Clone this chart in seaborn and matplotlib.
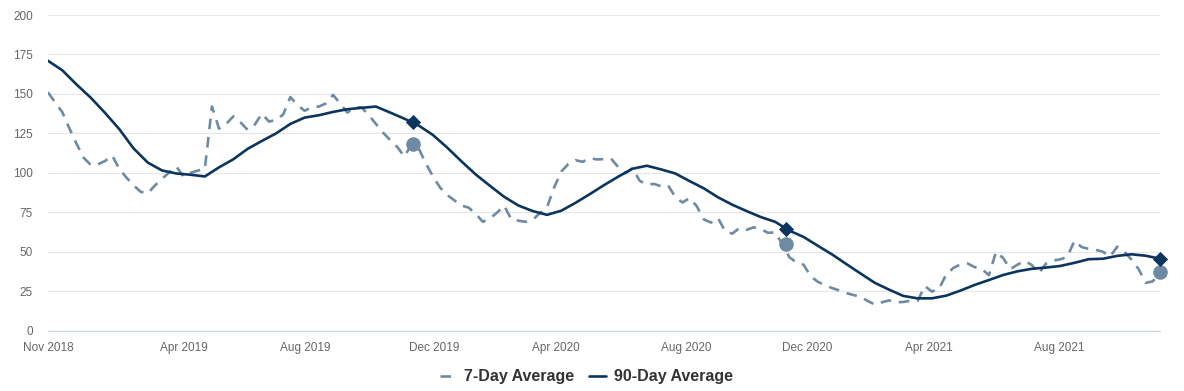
import pandas as pd
import seaborn as sns
import matplotlib.pyplot as plt

# Weekly 7-day average, starting 2018-11-17
start_date = "2018-11-17"
avg_7day = [
    151, 144.6, 138.5, 128.2, 118.5, 109.6, 105, 105.4, 107.5, 111,
    102.6, 97, 92.1, 88, 87, 92, 96.2, 100.3, 104, 97.7,
    100, 101.4, 102.5, 142, 128, 131, 135.8, 132, 127.3, 130.5,
    137.5, 132.5, 133.5, 137, 148, 143, 139.3, 141.6, 142, 144,
    149.4, 143.7, 138.2, 141.3, 141.5, 136.5, 131, 125.5, 120.8, 116.4,
    110.3, 118, 115.5, 106, 97.8, 90.7, 86, 82.6, 79.3, 78,
    74, 69, 71.2, 74.8, 79.2, 70.5, 69.7, 69, 70.2, 74.5,
    78, 90.7, 100.8, 105.6, 108, 107, 109.3, 108.5, 108.7, 109,
    103.6, 99.8, 103, 95, 92.5, 93, 91.5, 92, 84.8, 81.2,
    84, 79, 70.5, 68.5, 71.3, 63, 61.5, 65, 63.9, 65.5,
    64.4, 62, 62.3, 55, 46.6, 43.2, 41.8, 34.4, 31, 28.8,
    27, 25.5, 23.8, 22.6, 21.4, 18.8, 16.6, 18, 19.2, 18,
    18.2, 19, 18.9, 28.3, 24.8, 26.5, 35.6, 39.7, 42, 42.6,
    40.3, 39, 35.2, 50, 46, 39, 41.8, 44.2, 41.7, 36.3,
    42.5, 44.4, 45.2, 46.8, 57, 53, 51.8, 51.2, 50, 47,
    53.2, 50, 45, 39, 30.3, 31.3, 37.4,
]

# Bi-weekly 90-day average, same start
avg_90day = [
    171, 165, 156, 147.6, 138, 127.7, 115.5, 106.5, 101.5, 99.6,
    98.8, 97.7, 103.5, 108.6, 115.2, 120.2, 125, 131, 135, 136.5,
    138.6, 140.3, 141.2, 142, 138.2, 134.3, 130, 124, 116, 107.3,
    99, 91.8, 84.8, 79.3, 75.8, 73.4, 76, 81, 86.5, 92.2,
    97.6, 102.6, 104.5, 102.2, 99.6, 94.8, 90.2, 84.5, 79.8, 75.8,
    72, 69, 63.4, 59.4, 53.8, 48.3, 42.2, 36.2, 30.3, 26,
    22, 20.5, 20.5, 22.2, 25.4, 29, 32.1, 35.3, 37.6, 39.2,
    40, 41, 43, 45.3, 45.6, 47.4, 48.4, 47.5, 45.6,
]

# Highlighted points (one year apart)
marker_dates = ["2019-11-10", "2020-11-11", "2021-11-13"]
marker_7day = [118.5, 54.8, 37.4]
marker_90day = [132.5, 64.3, 45.6]

tick_dates = ["2018-11-17", "2019-03-30", "2019-07-28", "2019-12-01", "2020-03-30",
              "2020-08-05", "2020-12-02", "2021-03-31", "2021-08-06"]
tick_labels = ["Nov 2018", "Apr 2019", "Aug 2019", "Dec 2019", "Apr 2020",
               "Aug 2020", "Dec 2020", "Apr 2021", "Aug 2021"]

color_7day = "#6f8aa3"
color_90day = "#0b355f"

sns.set_style("white")
plt.rcParams['font.family'] = ['Liberation Sans', 'DejaVu Sans']

dates_7 = pd.date_range(start_date, periods=len(avg_7day), freq="7D")
dates_90 = pd.date_range(start_date, periods=len(avg_90day), freq="14D")
mdates_list = pd.to_datetime(marker_dates)

fig = plt.figure(figsize=(11.84, 3.91), dpi=100)
ax = fig.add_axes([48 / 1184, 60.3 / 391, 1112 / 1184, 315.7 / 391])

sns.lineplot(x=dates_7, y=avg_7day, ax=ax, color=color_7day, linewidth=1.9,
             label="7-Day Average", errorbar=None)
ax.lines[-1].set_linestyle((0, (4, 3)))
sns.lineplot(x=dates_90, y=avg_90day, ax=ax, color=color_90day, linewidth=1.9,
             label="90-Day Average", errorbar=None)

sns.scatterplot(x=mdates_list, y=marker_7day, ax=ax, color=color_7day, s=110,
                marker="o", linewidth=0, zorder=5, clip_on=False)
sns.scatterplot(x=mdates_list, y=marker_90day, ax=ax, color=color_90day, s=60,
                marker="D", linewidth=0, zorder=6, clip_on=False)

if ax.get_legend() is not None:
    ax.get_legend().remove()

ax.set_xlim(dates_7[0], dates_7[-1])
ax.set_ylim(0, 200)
ax.set_yticks(range(0, 201, 25))
ax.set_xticks(pd.to_datetime(tick_dates))
ax.set_xticklabels(tick_labels)
ax.set_xlabel("")
ax.set_ylabel("")

ax.yaxis.grid(True, color="#e6e6e6", linewidth=0.8)
ax.xaxis.grid(False)
ax.set_axisbelow(True)
for side in ["left", "right", "top"]:
    ax.spines[side].set_visible(False)
ax.spines["bottom"].set_color("#ccd6eb")
ax.spines["bottom"].set_linewidth(0.9)

ax.tick_params(axis="y", length=0, pad=11, labelsize=8.5, labelcolor="#666666")
ax.tick_params(axis="x", length=6.5, width=0.9, color="#ccd6eb", pad=1.5,
               labelsize=8.5, labelcolor="#666666")

handles = [ax.lines[0], ax.lines[1]]
leg = fig.legend(handles, ["7-Day Average", "90-Day Average"], loc="center",
                 bbox_to_anchor=(0.495, 14 / 391), ncol=2, frameon=False,
                 prop={"weight": "bold", "size": 11.5}, handlelength=1.1,
                 handletextpad=0.45, columnspacing=0.9)
for t in leg.get_texts():
    t.set_color("#333333")

fig.savefig("out.png", dpi=100)
